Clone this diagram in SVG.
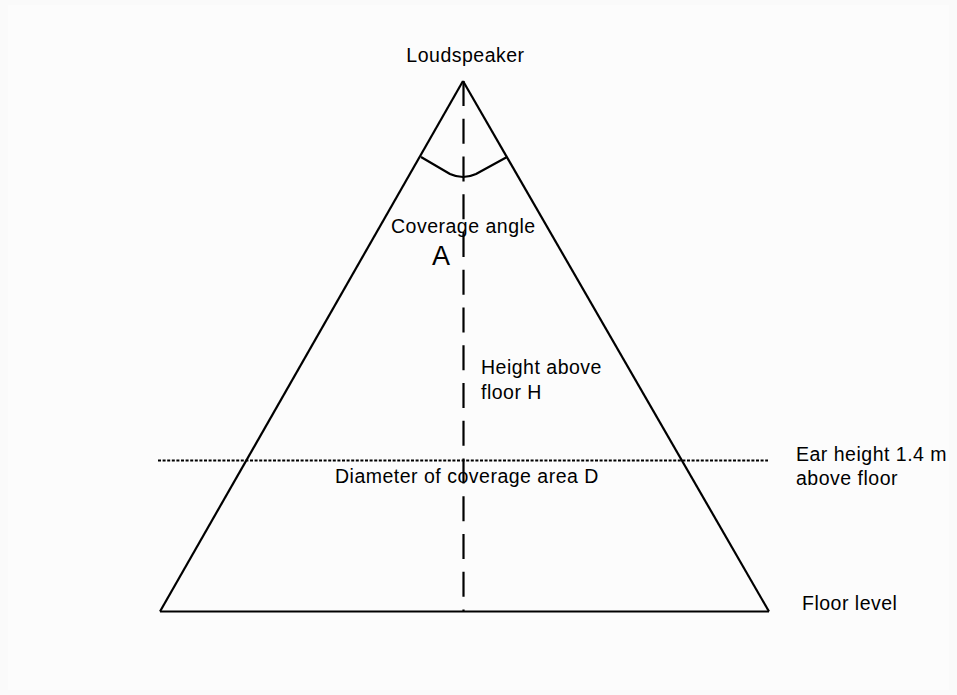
<svg xmlns="http://www.w3.org/2000/svg" width="957" height="695" viewBox="0 0 957 695">
  <style>
    .t { font-family: "Liberation Sans", Arial, sans-serif; font-size: 19.5px; letter-spacing: 0.5px; fill: #000; }
    .big { font-size: 27px; letter-spacing: 0; }
    .ln { stroke: #000; fill: none; stroke-width: 2.2; }
  </style>
  <rect width="957" height="695" fill="#fafafa"/>
  <rect x="8" y="5" width="941" height="685" fill="#fcfcfc"/>
  <g id="triangle">
    <line class="ln" x1="463" y1="81" x2="160" y2="611.5"/>
    <line class="ln" x1="463" y1="81" x2="769" y2="611.5"/>
    <line class="ln" x1="160" y1="611.5" x2="769" y2="611.5" stroke-width="2.7"/>
  </g>
  <g id="connectors">
    <line class="ln" x1="463.5" y1="81" x2="463.5" y2="612" stroke-width="2.5" stroke-dasharray="25 12.75"/>
    <line class="ln" x1="158" y1="460.5" x2="768" y2="460.5" stroke-width="2" stroke-dasharray="3 1.6"/>
    <path class="ln" d="M421,157 L450,174 Q463,180 476,174 L507,157" stroke-linejoin="round"/>
  </g>
  <g id="labels">
    <text class="t" x="465.5" y="62" text-anchor="middle">Loudspeaker</text>
    <text class="t" x="391" y="233">Coverage angle</text>
    <text class="t big" x="432" y="265">A</text>
    <text class="t" x="481" y="374">Height above</text>
    <text class="t" x="481" y="399">floor H</text>
    <text class="t" x="335" y="483">Diameter of coverage area D</text>
    <text class="t" x="796" y="461">Ear height 1.4 m</text>
    <text class="t" x="796" y="485">above floor</text>
    <text class="t" x="802" y="610">Floor level</text>
  </g>
</svg>
